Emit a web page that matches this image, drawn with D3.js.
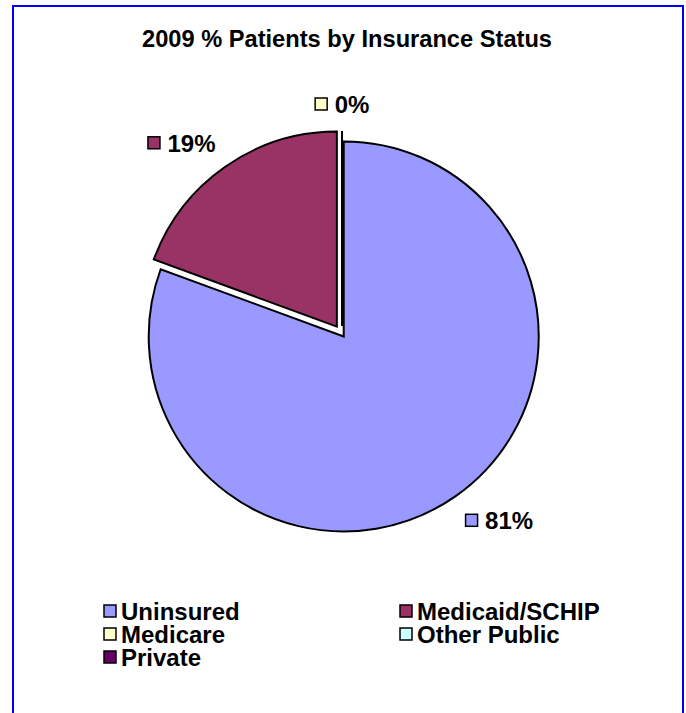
<!DOCTYPE html>
<html>
<head>
<meta charset="utf-8">
<script src="https://cdn.jsdelivr.net/npm/d3@7"></script>
<style>
  body { margin: 0; background: #fff; }
  svg { display: block; font-family: "Liberation Sans", Arial, sans-serif; }
</style>
</head>
<body>
<script>
// chart data (labels show the rounded percent)
const categories = ['Uninsured', 'Medicaid/SCHIP', 'Medicare', 'Other Public', 'Private']
const values = [80.6, 19.4, 0, null, null]
const colors = ['#9999FF', '#993366', '#FFFFCC', '#CCFFFF', '#660066']
const explode = [3, 9, 8, 0, 0]
const title = '2009 % Patients by Insurance Status'

const box = { width: 686, height: 713 }
const cx = 342, cy = 334, radius = 195

const svg = d3.select('body')
  .append('svg')
  .attr('width', box.width)
  .attr('height', box.height)

// blue frame
svg.append('rect')
  .attr('x', 13)
  .attr('y', 6)
  .attr('width', 670)
  .attr('height', 740)
  .style('fill', 'none')
  .style('stroke', '#0000FF')
  .style('stroke-width', 2)

svg.append('text')
  .attr('x', 347)
  .attr('y', 47)
  .attr('text-anchor', 'middle')
  .attr('textLength', 410)
  .attr('lengthAdjust', 'spacingAndGlyphs')
  .style('font-size', '23px')
  .style('font-weight', 'bold')
  .text(title)

const rows = categories.map((c, i) => ({ name: c, value: values[i], color: colors[i], explode: explode[i] }))
const slices = rows.filter(d => d.value != null)

const pie = d3.pie().sort(null).value(d => d.value)
const arc = d3.arc().innerRadius(0).outerRadius(radius)
const arcs = pie(slices)

const g = svg.append('g').attr('transform', `translate(${cx},${cy})`)

const offset = (d, r) => {
  const a = (d.startAngle + d.endAngle) / 2
  return [Math.sin(a) * r, -Math.cos(a) * r]
}

g.selectAll('path.slice')
  .data(arcs)
  .join('path')
  .attr('class', 'slice')
  .attr('transform', d => `translate(${offset(d, d.data.explode)})`)
  .attr('d', arc)
  .style('fill', d => d.data.color)
  .style('stroke', '#000')
  .style('stroke-width', 2)
  .style('stroke-linejoin', 'miter')

// data labels: key square + percent, placed outside the slice
const labelR = 212
const fmt = v => Math.round(v) + '%'
const lab = g.selectAll('g.lab')
  .data(arcs)
  .join('g')
  .attr('class', 'lab')

lab.each(function (d) {
  const sel = d3.select(this)
  const a = (d.startAngle + d.endAngle) / 2
  const [ox, oy] = offset(d, d.data.explode)
  const [px, py] = offset(d, labelR)
  const t = sel.append('text')
    .attr('x', 20)
    .attr('y', 9)
    .style('font-size', '24px')
    .style('font-weight', 'bold')
    .text(fmt(d.data.value))
  const w = 20 + t.node().getComputedTextLength()
  const h = 20
  const sx = Math.abs(Math.sin(a)) < 0.2 ? 0 : Math.sign(Math.sin(a))
  const sy = Math.abs(Math.cos(a)) < 0.2 ? 0 : -Math.sign(Math.cos(a))
  const bx = ox + px + sx * w / 2 - w / 2
  const by = oy + py + sy * h / 2
  sel.attr('transform', `translate(${bx},${by})`)
  sel.insert('rect', 'text')
    .attr('x', 0.5)
    .attr('y', -6)
    .attr('width', 12)
    .attr('height', 12)
    .style('fill', d.data.color)
    .style('stroke', '#000')
    .style('stroke-width', 1.5)
})

// legend
const legX = d3.scalePoint().domain([0, 1]).range([104, 400])
const legY = d3.scalePoint().domain([0, 1, 2]).range([611, 657])

const leg = svg.append('g')
  .selectAll('g')
  .data(rows)
  .join('g')
  .attr('transform', (d, i) => `translate(${legX(i % 2)},${legY(Math.floor(i / 2))})`)

leg.append('rect')
  .attr('x', 0)
  .attr('y', -6)
  .attr('width', 12)
  .attr('height', 12)
  .style('fill', d => d.color)
  .style('stroke', '#000')
  .style('stroke-width', 1.5)

leg.append('text')
  .attr('x', 17)
  .attr('y', 9)
  .style('font-size', '24px')
  .style('font-weight', 'bold')
  .text(d => d.name)
</script>
</body>
</html>
